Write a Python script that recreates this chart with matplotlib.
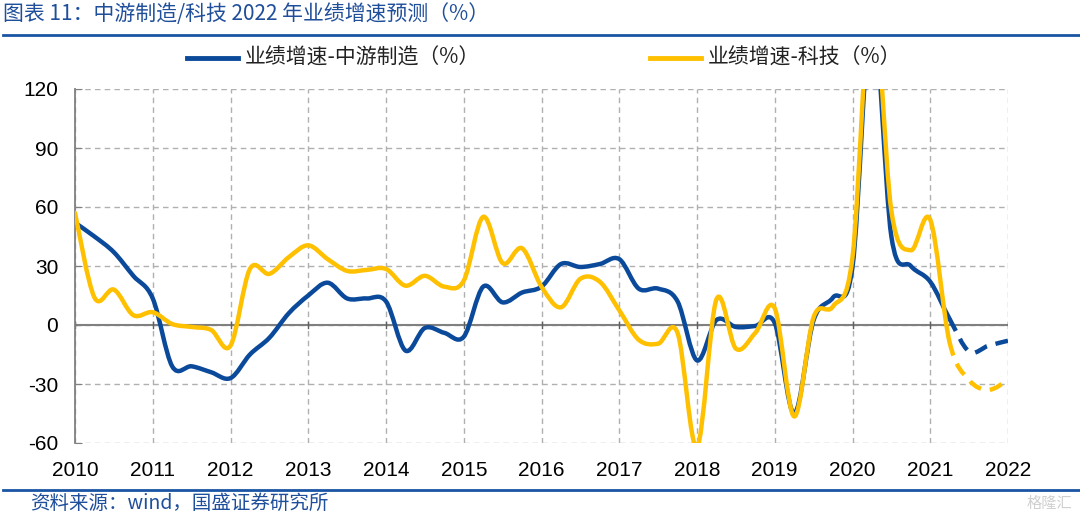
import numpy as np
import matplotlib
matplotlib.use("Agg")
import matplotlib.pyplot as plt
from matplotlib.path import Path
from matplotlib.patches import PathPatch

plt.rcParams['font.family'] = ['Noto Sans CJK SC', 'DejaVu Sans']

# 季度数据，2010Q1 起，最后三个点为预测值
start_year = 2010
n_actual = 46  # 实际值个数（其余为预测，虚线）

midstream = [52, 45, 37, 25,
             13.5, -21, -21, -24,
             -27, -15, -6.5, 6,
             15, 21.5, 13.5, 13.5,
             12, -13, -1.5, -4,
             -6, 19.5, 11.5, 16.5,
             19.5, 31, 29.5, 31,
             33.5, 18.5, 18.5, 12,
             -18, 2.5, -1, -0.5,
             1, -45, 2.5, 14,
             29.5, 160, 45, 30,
             22, 3, -13.5, -10.5,
             -8]

tech = [57, 14, 18, 5,
        6.5, 0.5, -1, -2.5,
        -10.5, 28.5, 26, 34.5,
        40.5, 33.5, 27.5, 28,
        28.5, 20, 25, 19.5,
        22.5, 55, 31.5, 39,
        19.5, 9, 23.5, 22,
        7.5, -7.5, -9.5, -4,
        -62, 13, -12, -4,
        8.5, -46.5, 4, 9.5,
        34.5, 170, 58, 38,
        53.5, -9, -28, -33,
        -28]

year_ticks = list(range(2010, 2023))
y_ticks = [-60, -30, 0, 30, 60, 90, 120]

series_names = ['业绩增速-中游制造（%）', '业绩增速-科技（%）']
series_colors = ['#0B4A9A', '#FFC000']

title = '图表 11：中游制造/科技 2022 年业绩增速预测（%）'
source = '资料来源：wind，国盛证券研究所'
blue_text = '#1F4E9A'


def smooth_segments(x, y):
    """类似 Excel 平滑线：每段三次贝塞尔控制点。"""
    segs = []
    n = len(x)
    for i in range(n - 1):
        p0 = (x[max(i - 1, 0)], y[max(i - 1, 0)])
        p1 = (x[i], y[i])
        p2 = (x[i + 1], y[i + 1])
        p3 = (x[min(i + 2, n - 1)], y[min(i + 2, n - 1)])
        c1 = (p1[0] + (p2[0] - p0[0]) / 6, p1[1] + (p2[1] - p0[1]) / 6)
        c2 = (p2[0] - (p3[0] - p1[0]) / 6, p2[1] - (p3[1] - p1[1]) / 6)
        segs.append((p1, c1, c2, p2))
    return segs


def make_path(segs):
    verts = [segs[0][0]]
    codes = [Path.MOVETO]
    for _, c1, c2, p2 in segs:
        verts += [c1, c2, p2]
        codes += [Path.CURVE4] * 3
    return Path(verts, codes)


fig = plt.figure(figsize=(10.8, 5.16), dpi=100)
ax = fig.add_axes([75 / 1080, 1 - 443 / 516, 933 / 1080, 354 / 516])

x = start_year + np.arange(len(midstream)) * 0.25

for vals, color in zip([midstream, tech], series_colors):
    segs = smooth_segments(x, vals)
    solid = make_path(segs[:n_actual - 1])
    dashed = make_path(segs[n_actual - 1:])
    ax.add_patch(PathPatch(solid, fill=False, edgecolor=color, lw=3.2,
                           capstyle='round', joinstyle='round', zorder=3))
    ax.add_patch(PathPatch(dashed, fill=False, edgecolor=color, lw=3.2,
                           linestyle=(0, (3, 2)), zorder=3))

ax.set_xlim(2010, 2022)
ax.set_ylim(-60, 120)
ax.set_xticks(year_ticks)
ax.set_yticks(y_ticks)
ax.set_yticklabels([str(v) for v in y_ticks], family='Liberation Sans', fontsize=15)
ax.set_xticklabels([])
for yr in year_ticks:
    ax.text(yr, -27 / 354, str(yr), ha='center', va='center', family='Liberation Sans',
            fontsize=15, transform=ax.get_xaxis_transform(), clip_on=False)

ax.grid(True, color='#B0B0B0', linestyle=(0, (4, 3)), lw=1)
for s in ['top', 'right', 'bottom']:
    ax.spines[s].set_visible(False)
ax.spines['left'].set_color('#808080')
ax.spines['left'].set_linewidth(1.3)
ax.axhline(0, color='#808080', lw=1.5, zorder=2)
ax.tick_params(axis='y', length=5, color='#808080', pad=12, direction='in')
ax.tick_params(axis='x', length=0)
for yr in year_ticks:
    ax.plot([yr, yr], [-1.5, 1.5], color='#606060', lw=1, zorder=2)

# 图例
for i, (name, color) in enumerate(zip(series_names, series_colors)):
    x0 = [187, 650][i] / 1080
    fig.add_artist(plt.Line2D([x0, x0 + 51 / 1080], [1 - 58 / 516] * 2,
                              color=color, lw=3.5))
    fig.text(x0 + 58 / 1080, 1 - 58 / 516, name, fontsize=15,
             va='center', ha='left', color='#222222')

fig.text(3 / 1080, 1 - 14 / 516, title, fontsize=15, color=blue_text,
         va='center', ha='left')
fig.add_artist(plt.Line2D([3 / 1080, 1], [1 - 35 / 516] * 2, color='#1A55A5', lw=2))
fig.add_artist(plt.Line2D([3 / 1080, 1], [1 - 490 / 516] * 2, color='#1A55A5', lw=2))
fig.text(30 / 1080, 1 - 503 / 516, source, fontsize=14, color=blue_text,
         va='center', ha='left')
fig.text(1072 / 1080, 1 - 503 / 516, '格隆汇', fontsize=11, color='#D0D0D0',
         va='center', ha='right')

fig.savefig('out.png', dpi=100)
